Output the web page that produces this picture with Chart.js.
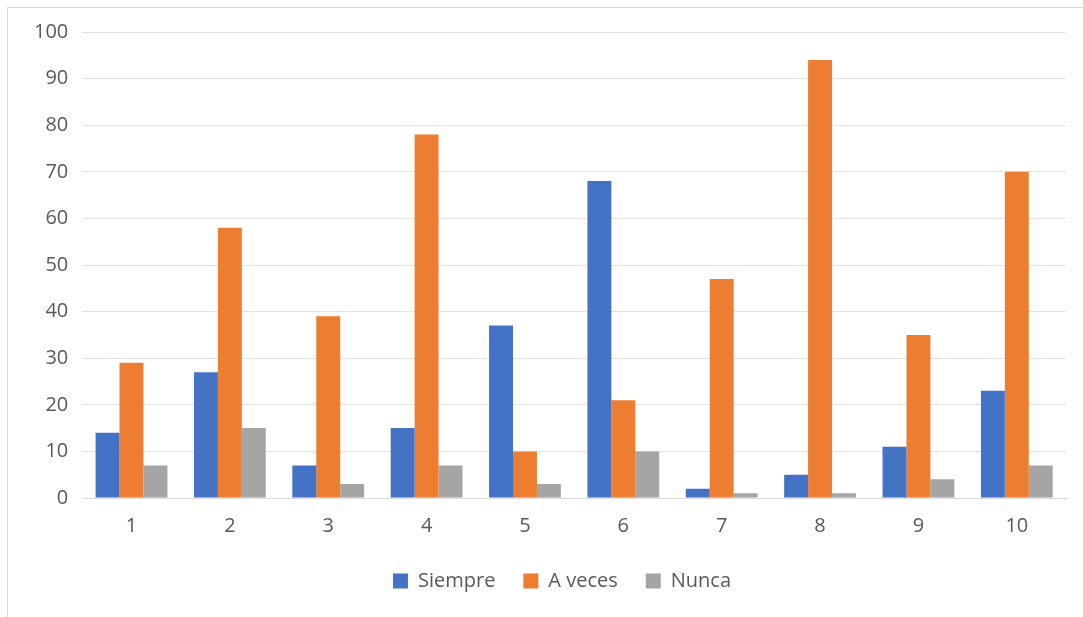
<!DOCTYPE html>
<html>
<head>
<meta charset="utf-8">
<script src="https://cdn.jsdelivr.net/npm/chart.js@4.4.0/dist/chart.umd.min.js"></script>
<style>
html,body{margin:0;padding:0;background:#fff;}
#wrap{position:relative;width:1083px;height:617px;overflow:hidden;}
#frame{position:absolute;left:7px;top:7px;width:1100px;height:700px;border-top:1px solid #d9d9d9;border-left:1px solid #d9d9d9;}
#chart{position:absolute;left:0;top:0;}
</style>
</head>
<body>
<div id="wrap">
<div id="frame"></div>
<canvas id="chart" width="1083" height="617"></canvas>
</div>
<script>

/* DONNEES */

const categories = ["1","2","3","4","5","6","7","8","9","10"];
const siempre = [14,27,7,15,37,68,2,5,11,23];
const aVeces = [29,58,39,78,10,21,47,94,35,70];
const nunca = [7,15,3,7,3,10,1,1,4,7];
const seriesNames = ["Siempre","A veces","Nunca"];

const COLORS = ["#4472C4","#ED7D31","#A5A5A5"];
const FONT = "'Open Sans', sans-serif";

let datasets = [siempre,aVeces,nunca].map((vals,i)=>({
label:seriesNames[i],
data:vals,
backgroundColor:COLORS[i],
borderWidth:0,
categoryPercentage:0.73,
barPercentage:1.0
}));

/* legende centree sous la zone du graphe */
const shiftLegend = {
id:'shiftLegend',
afterLayout(chart){
let lg = chart.legend;
lg.left += 19; lg.right += 19;
lg.top -= 3; lg.bottom -= 3;
}
};

new Chart(document.getElementById("chart"),{

type:'bar',

data:{
labels:categories,
datasets:datasets
},

plugins:[shiftLegend],

options:{
responsive:false,
animation:false,
layout:{padding:{left:20,right:17,top:32,bottom:13}},

plugins:{
tooltip:{enabled:false},
legend:{
position:'bottom',
labels:{
boxWidth:15,
boxHeight:15,
padding:28,
color:"#595959",
font:{family:FONT,size:20}
}
}
},

scales:{
x:{
grid:{display:false},
border:{display:true,color:"#d9d9d9",width:1},
ticks:{color:"#595959",font:{family:FONT,size:20},padding:8}
},
y:{
min:0,
max:100,
grid:{color:"#e3e3e3",lineWidth:1,drawTicks:false},
border:{display:false},
ticks:{stepSize:10,color:"#595959",font:{family:FONT,size:20},padding:14}
}
}

}

});

</script>
</body>
</html>
